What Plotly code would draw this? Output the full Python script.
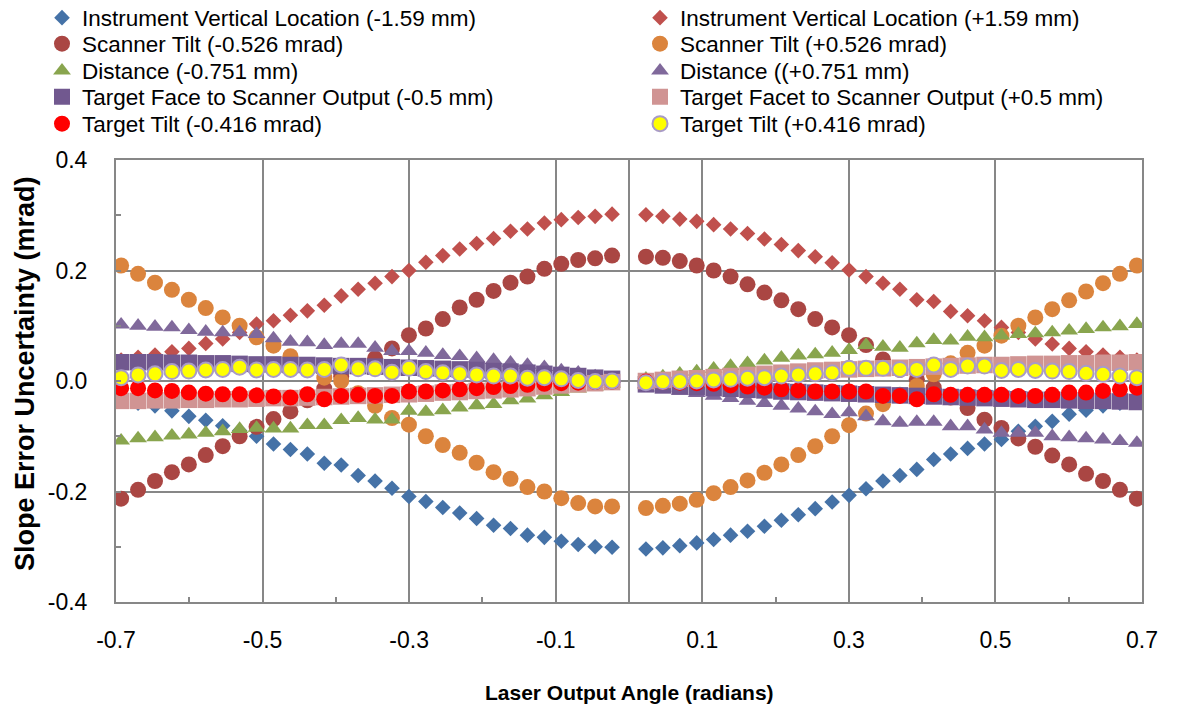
import plotly.graph_objects as go

# Laser output angles (radians): 30 steps each side of zero, no sample at 0
ANGLES_NEG = [-0.6930, -0.6699, -0.6468, -0.6237, -0.6006, -0.5775, -0.5544, -0.5313, -0.5082, -0.4851,
              -0.4620, -0.4389, -0.4158, -0.3927, -0.3696, -0.3465, -0.3234, -0.3003, -0.2772, -0.2541,
              -0.2310, -0.2079, -0.1848, -0.1617, -0.1386, -0.1155, -0.0924, -0.0693, -0.0462, -0.0231]
ANGLES_POS = [0.0231, 0.0462, 0.0693, 0.0924, 0.1155, 0.1386, 0.1617, 0.1848, 0.2079, 0.2310,
              0.2541, 0.2772, 0.3003, 0.3234, 0.3465, 0.3696, 0.3927, 0.4158, 0.4389, 0.4620,
              0.4851, 0.5082, 0.5313, 0.5544, 0.5775, 0.6006, 0.6237, 0.6468, 0.6699, 0.6930]
ANGLES = ANGLES_NEG + ANGLES_POS

# Slope error uncertainty (mrad) for each perturbation, negative-angle half then positive-angle half
ivl_minus = [-0.035, -0.040, -0.045, -0.054, -0.064, -0.071, -0.081, -0.090, -0.100, -0.114,
             -0.124, -0.132, -0.149, -0.152, -0.171, -0.181, -0.194, -0.209, -0.218, -0.229,
             -0.239, -0.249, -0.261, -0.267, -0.279, -0.283, -0.290, -0.296, -0.300, -0.301,
             -0.304, -0.302, -0.298, -0.293, -0.287, -0.279, -0.272, -0.263, -0.252, -0.242,
             -0.231, -0.219, -0.207, -0.195, -0.181, -0.171, -0.160, -0.142, -0.132, -0.122,
             -0.114, -0.106, -0.091, -0.082, -0.073, -0.060, -0.053, -0.045, -0.040, -0.035]
ivl_plus = [0.038, 0.043, 0.047, 0.053, 0.059, 0.068, 0.076, 0.088, 0.103, 0.109,
            0.119, 0.127, 0.137, 0.154, 0.166, 0.177, 0.189, 0.200, 0.215, 0.227,
            0.239, 0.249, 0.258, 0.271, 0.275, 0.286, 0.292, 0.296, 0.298, 0.302,
            0.301, 0.298, 0.293, 0.289, 0.283, 0.275, 0.267, 0.257, 0.247, 0.236,
            0.225, 0.214, 0.201, 0.189, 0.177, 0.166, 0.147, 0.144, 0.126, 0.118,
            0.109, 0.097, 0.088, 0.076, 0.067, 0.059, 0.053, 0.047, 0.043, 0.038]
tilt_minus = [-0.213, -0.197, -0.181, -0.165, -0.151, -0.134, -0.118, -0.100, -0.083, -0.069,
              -0.055, -0.035, -0.014, 0.008, 0.025, 0.041, 0.059, 0.083, 0.095, 0.112,
              0.133, 0.147, 0.163, 0.178, 0.189, 0.203, 0.212, 0.219, 0.222, 0.227,
              0.225, 0.223, 0.217, 0.209, 0.200, 0.189, 0.175, 0.160, 0.146, 0.130,
              0.112, 0.097, 0.083, 0.065, 0.039, 0.020, 0.003, -0.012, -0.030, -0.049,
              -0.070, -0.085, -0.104, -0.119, -0.135, -0.151, -0.168, -0.181, -0.197, -0.213]
tilt_plus = [0.209, 0.194, 0.178, 0.165, 0.147, 0.132, 0.115, 0.100, 0.079, 0.064,
             0.045, 0.028, 0.006, 0.000, -0.022, -0.045, -0.067, -0.079, -0.100, -0.116,
             -0.130, -0.148, -0.165, -0.177, -0.192, -0.200, -0.212, -0.221, -0.227, -0.227,
             -0.230, -0.226, -0.222, -0.215, -0.203, -0.192, -0.180, -0.166, -0.151, -0.134,
             -0.118, -0.100, -0.080, -0.059, -0.042, -0.025, -0.009, 0.012, 0.032, 0.051,
             0.064, 0.082, 0.100, 0.115, 0.130, 0.146, 0.162, 0.177, 0.194, 0.209]
dist_minus = [-0.108, -0.104, -0.102, -0.099, -0.097, -0.094, -0.091, -0.087, -0.085, -0.086,
              -0.086, -0.080, -0.080, -0.071, -0.067, -0.070, -0.070, -0.054, -0.056, -0.053,
              -0.048, -0.044, -0.042, -0.035, -0.032, -0.026, -0.020, -0.014, -0.010, -0.005,
              0.004, 0.008, 0.013, 0.017, 0.022, 0.027, 0.032, 0.037, 0.042, 0.046,
              0.048, 0.051, 0.056, 0.065, 0.062, 0.060, 0.068, 0.074, 0.073, 0.080,
              0.079, 0.082, 0.085, 0.086, 0.088, 0.091, 0.094, 0.097, 0.099, 0.103]
dist_plus = [0.102, 0.100, 0.098, 0.097, 0.092, 0.089, 0.088, 0.088, 0.085, 0.077,
             0.071, 0.070, 0.065, 0.067, 0.067, 0.060, 0.054, 0.054, 0.051, 0.047,
             0.045, 0.041, 0.038, 0.033, 0.029, 0.025, 0.019, 0.015, 0.008, 0.004,
             -0.006, -0.012, -0.018, -0.022, -0.027, -0.031, -0.036, -0.040, -0.045, -0.050,
             -0.055, -0.060, -0.057, -0.064, -0.073, -0.076, -0.074, -0.074, -0.082, -0.082,
             -0.088, -0.094, -0.094, -0.094, -0.100, -0.102, -0.104, -0.106, -0.109, -0.112]
face_minus = [0.034, 0.034, 0.034, 0.033, 0.033, 0.032, 0.032, 0.031, 0.030, 0.030,
              0.029, 0.029, 0.028, 0.027, 0.027, 0.026, 0.025, 0.024, 0.023, 0.022,
              0.021, 0.020, 0.018, 0.017, 0.015, 0.013, 0.011, 0.009, 0.006, 0.004,
              -0.006, -0.008, -0.010, -0.011, -0.013, -0.014, -0.016, -0.017, -0.019, -0.020,
              -0.021, -0.022, -0.023, -0.024, -0.025, -0.026, -0.027, -0.028, -0.029, -0.030,
              -0.031, -0.032, -0.033, -0.034, -0.034, -0.035, -0.036, -0.036, -0.037, -0.038]
facet_plus = [-0.036, -0.036, -0.035, -0.035, -0.034, -0.034, -0.033, -0.033, -0.032, -0.031,
              -0.031, -0.030, -0.029, -0.028, -0.027, -0.026, -0.025, -0.024, -0.023, -0.021,
              -0.020, -0.018, -0.017, -0.015, -0.013, -0.010, -0.008, -0.006, -0.004, -0.002,
              0.000, 0.002, 0.004, 0.005, 0.007, 0.009, 0.011, 0.013, 0.015, 0.017,
              0.019, 0.020, 0.021, 0.022, 0.023, 0.024, 0.025, 0.026, 0.027, 0.028,
              0.029, 0.029, 0.030, 0.031, 0.031, 0.032, 0.032, 0.033, 0.033, 0.034]
target_tilt_minus = [-0.013, -0.013, -0.017, -0.018, -0.021, -0.023, -0.024, -0.024, -0.026, -0.028,
                     -0.030, -0.024, -0.033, -0.027, -0.025, -0.027, -0.027, -0.019, -0.019, -0.017,
                     -0.015, -0.013, -0.011, -0.009, -0.007, -0.005, -0.004, -0.003, -0.002, -0.001,
                     -0.001, -0.002, -0.003, -0.004, -0.005, -0.008, -0.010, -0.012, -0.015, -0.017,
                     -0.019, -0.019, -0.019, -0.019, -0.027, -0.027, -0.033, -0.024, -0.025, -0.025,
                     -0.025, -0.025, -0.027, -0.027, -0.025, -0.021, -0.021, -0.018, -0.015, -0.012]
target_tilt_plus = [0.006, 0.011, 0.013, 0.017, 0.018, 0.020, 0.021, 0.025, 0.020, 0.021,
                    0.021, 0.020, 0.021, 0.029, 0.022, 0.022, 0.016, 0.023, 0.017, 0.015,
                    0.013, 0.011, 0.009, 0.009, 0.005, 0.006, 0.004, 0.001, -0.001, 0.000,
                    -0.003, -0.001, -0.001, 0.000, 0.002, 0.003, 0.005, 0.006, 0.009, 0.011,
                    0.013, 0.015, 0.023, 0.023, 0.023, 0.021, 0.021, 0.029, 0.021, 0.027,
                    0.027, 0.019, 0.021, 0.019, 0.018, 0.017, 0.014, 0.012, 0.009, 0.006]

# Axis tick positions and their printed labels (plain hyphen minus)
X_TICKS = [-0.7, -0.5, -0.3, -0.1, 0.1, 0.3, 0.5, 0.7]
X_LABELS = ["-0.7", "-0.5", "-0.3", "-0.1", "0.1", "0.3", "0.5", "0.7"]
Y_TICKS = [-0.4, -0.2, 0.0, 0.2, 0.4]
Y_LABELS = ["-0.4", "-0.2", "0.0", "0.2", "0.4"]

X_TITLE = "Laser Output Angle (radians)"
Y_TITLE = "Slope Error Uncertainty (mrad)"

SERIES = [
    ("Instrument Vertical Location (-1.59 mm)", ivl_minus, "diamond", "#4572A7", 12, None),
    ("Instrument Vertical Location (+1.59 mm)", ivl_plus, "diamond", "#C0504D", 12, None),
    ("Scanner Tilt (-0.526 mrad)", tilt_minus, "circle", "#AA4643", 16, None),
    ("Scanner Tilt (+0.526 mrad)", tilt_plus, "circle", "#DB843D", 16, None),
    ("Distance (-0.751 mm)", dist_minus, "triangle-up", "#89A54E", 15.5, None),
    ("Distance ((+0.751 mm)", dist_plus, "triangle-up", "#80699B", 15.5, None),
    ("Target Face to Scanner Output (-0.5 mm)", face_minus, "square", "#71588F", 16.5, None),
    ("Target Facet to Scanner Output (+0.5 mm)", facet_plus, "square", "#D09493", 16.5, None),
    ("Target Tilt (-0.416 mrad)", target_tilt_minus, "circle", "#FF0000", 16, None),
    ("Target Tilt (+0.416 mrad)", target_tilt_plus, "circle", "#FFFF00", 15, "#A99BC6"),
]

FONT = "Liberation Sans, Arial, sans-serif"
GRID = "#878787"
W, H = 1189, 711
MARGIN = dict(l=116, r=47, t=160, b=109)

# Two-column key: each entry gets its own legend box, left column for the
# negative perturbations, right column for the positive ones.
LEGEND_COL_X = [42, 640]
LEGEND_ROW_Y = [18, 44, 71, 97, 124]

fig = go.Figure()
legend_layouts = {}
for idx, (name, vals, symbol, color, size, outline) in enumerate(SERIES):
    marker = dict(symbol=symbol, color=color, size=size)
    marker["line"] = dict(color=outline, width=2) if outline else dict(width=0)
    key = "legend" if idx == 0 else f"legend{idx + 1}"
    fig.add_trace(go.Scatter(x=ANGLES, y=vals, mode="markers", name=name,
                             marker=marker, legend=key))
    col, row = idx % 2, idx // 2
    legend_layouts[key] = dict(
        xref="container", yref="container",
        x=LEGEND_COL_X[col] / W, y=1 - LEGEND_ROW_Y[row] / H,
        xanchor="left", yanchor="middle",
        font=dict(family=FONT, size=22.5, color="black"),
        bgcolor="rgba(0,0,0,0)", borderwidth=0, itemsizing="trace",
    )

axis_common = dict(
    showline=True, linecolor=GRID, linewidth=2, mirror=True,
    showgrid=True, gridcolor=GRID, gridwidth=2,
    zeroline=True, zerolinecolor=GRID, zerolinewidth=2,
    ticks="inside", ticklen=5, tickcolor=GRID, tickwidth=2,
    tickfont=dict(family=FONT, size=23, color="black"),
    tickmode="array",
)

plot_w = W - MARGIN["l"] - MARGIN["r"]
plot_h = H - MARGIN["t"] - MARGIN["b"]

fig.update_layout(
    width=W, height=H,
    margin=dict(**MARGIN, autoexpand=False),
    paper_bgcolor="white", plot_bgcolor="white",
    font=dict(family=FONT, color="black"),
    showlegend=True,
    xaxis=dict(
        range=[-0.7, 0.7], tickvals=X_TICKS, ticktext=X_LABELS,
        minor=dict(dtick=0.1, tick0=-0.7, ticks="inside", ticklen=5, tickcolor=GRID, tickwidth=2, showgrid=False),
        ticklabelstandoff=16,
        **axis_common,
    ),
    yaxis=dict(
        range=[-0.4, 0.4], tickvals=Y_TICKS, ticktext=Y_LABELS,
        minor=dict(dtick=0.1, tick0=-0.4, ticks="inside", ticklen=5, tickcolor=GRID, tickwidth=2, showgrid=False),
        ticklabelstandoff=22,
        **axis_common,
    ),
    annotations=[
        dict(text=f"<b>{X_TITLE}</b>", xref="paper", yref="paper",
             x=0.5, y=-(692 - (H - MARGIN["b"])) / plot_h,
             xanchor="center", yanchor="middle", showarrow=False,
             font=dict(family=FONT, size=21, color="black")),
        dict(text=f"<b>{Y_TITLE}</b>", xref="paper", yref="paper",
             x=(25 - MARGIN["l"]) / plot_w, y=((H - MARGIN["b"]) - 374) / plot_h,
             xanchor="center", yanchor="middle", textangle=-90, showarrow=False,
             font=dict(family=FONT, size=27, color="black")),
    ],
    **legend_layouts,
)

fig.write_html("out.html")
